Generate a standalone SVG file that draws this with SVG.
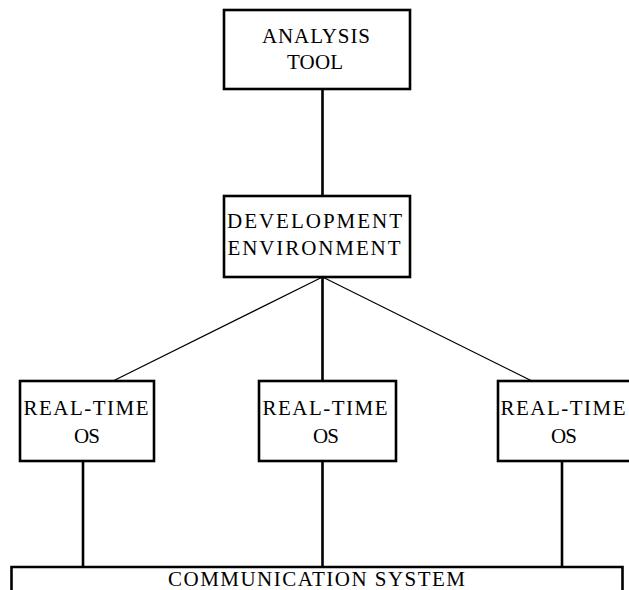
<svg xmlns="http://www.w3.org/2000/svg" width="629" height="590" viewBox="0 0 629 590">
<style>
.box{fill:#fff;stroke:#000;stroke-width:2.6}
.thick{stroke:#000;stroke-width:2.6;fill:none}
.thin{stroke:#000;stroke-width:1.2;fill:none}
text{font-family:"Liberation Serif","Times New Roman",serif;font-size:21px;fill:#000;text-anchor:middle}
</style>
<rect width="629" height="590" fill="#fff"/>
<g id="connectors">
<line class="thick" x1="322.5" y1="89" x2="322.5" y2="196"/>
<line class="thick" x1="322.5" y1="277" x2="322.5" y2="381"/>
<line class="thin" x1="322.5" y1="277" x2="113" y2="381"/>
<line class="thin" x1="322.5" y1="277" x2="532" y2="381"/>
<line class="thick" x1="83" y1="461" x2="83" y2="567"/>
<line class="thick" x1="322.5" y1="461" x2="322.5" y2="567"/>
<line class="thick" x1="562" y1="461" x2="562" y2="567"/>
</g>
<g id="analysis-tool">
<rect class="box" x="224" y="10" width="186" height="79"/>
<text x="316" y="43" textLength="108" lengthAdjust="spacing">ANALYSIS</text>
<text x="315" y="69" textLength="56" lengthAdjust="spacing">TOOL</text>
</g>
<g id="development-environment">
<rect class="box" x="224" y="196" width="186" height="81"/>
<text x="314.5" y="228" textLength="175" lengthAdjust="spacing">DEVELOPMENT</text>
<text x="314" y="255" textLength="173" lengthAdjust="spacing">ENVIRONMENT</text>
</g>
<g id="rtos-left">
<rect class="box" x="20" y="381" width="134" height="80"/>
<text x="86" y="415" textLength="125" lengthAdjust="spacing">REAL-TIME</text>
<text x="87" y="443" textLength="26" lengthAdjust="spacing">OS</text>
</g>
<g id="rtos-middle">
<rect class="box" x="259" y="381" width="137" height="80"/>
<text x="325" y="415" textLength="125" lengthAdjust="spacing">REAL-TIME</text>
<text x="326" y="443" textLength="26" lengthAdjust="spacing">OS</text>
</g>
<g id="rtos-right">
<rect class="box" x="498" y="381" width="134" height="80"/>
<text x="563" y="415" textLength="125" lengthAdjust="spacing">REAL-TIME</text>
<text x="564" y="443" textLength="26" lengthAdjust="spacing">OS</text>
</g>
<g id="communication-system">
<path class="thick" d="M11.5,592 V567 H622.5 V592"/>
<text x="316.5" y="586" textLength="297" lengthAdjust="spacing">COMMUNICATION SYSTEM</text>
</g>
</svg>
